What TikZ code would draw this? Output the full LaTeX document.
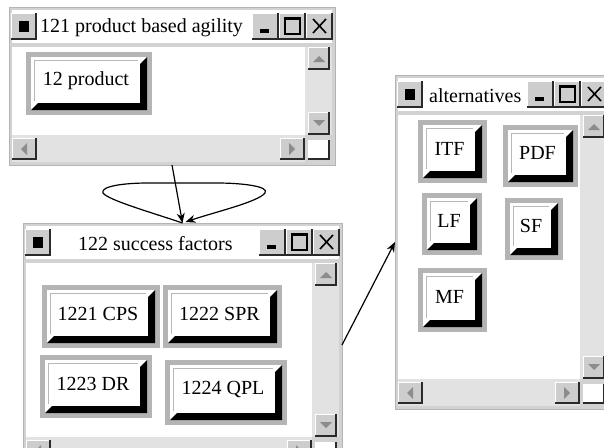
\documentclass[tikz,border=0pt]{standalone}
\usepackage{fontspec}
\setmainfont{Liberation Serif}
\usetikzlibrary{arrows.meta,calc}
\definecolor{framegray}{HTML}{D2D2D2}
\definecolor{trackgray}{HTML}{E2E2E2}
\definecolor{btngray}{HTML}{CDCDCD}
\definecolor{edgedark}{HTML}{2A2A2A}
\definecolor{arrowgray}{HTML}{8C8C8C}
\definecolor{outergray}{HTML}{B4B4B4}
\definecolor{lightline}{HTML}{B8B8B8}
\tikzset{
  titletext/.style={inner sep=0pt,font=\fontsize{20}{24}\selectfont},
  btntext/.style={inner sep=0pt,font=\fontsize{20}{24}\selectfont},
  conn/.style={line width=1.2pt,black,-{Stealth[length=10pt,width=8pt]}},
  winname/.style={inner sep=0pt,outer sep=0pt}
}
\newcommand\raisedbox[4]{%
  \fill[btngray] ({#1},{#2}) rectangle ({#3},{#4});
  \draw[white,line width=1.2pt] ({#1+0.6},{#4}) -- ({#1+0.6},{#2+0.6}) -- ({#3},{#2+0.6});
  \draw[edgedark,line width=1.6pt] ({#1},{#4-0.8}) -- ({#3-0.8},{#4-0.8}) -- ({#3-0.8},{#2});
}
\newcommand\drawwin[7]{%
  \def\wL{#2}\def\wT{#3}\def\wR{#4}\def\wB{#5}%
  \fill[framegray] (\wL,\wT) rectangle (\wR,\wB);
  \draw[outergray,line width=1pt] (\wL,\wT) rectangle (\wR,\wB);
  \fill[white] ({\wL+3},{\wT+3}) rectangle ({\wR-3},{\wT+36});
  \fill[white] ({\wL+3},{\wT+40}) rectangle ({\wR-30},{\wB-30});
  \fill[trackgray] ({\wR-30},{\wT+40}) rectangle ({\wR-3},{\wB-30});
  \fill[trackgray] ({\wL+3},{\wB-30}) rectangle ({\wR-30},{\wB-3});
  % system icon
  \raisedbox{\wL+2}{\wT+6}{\wL+28}{\wT+33}
  \fill[black] ({\wL+10},{\wT+14}) rectangle ({\wL+20},{\wT+25});
  % minimize
  \raisedbox{\wR-83}{\wT+6}{\wR-56}{\wT+33}
  \fill[black] ({\wR-75},{\wT+22}) rectangle ({\wR-66},{\wT+26});
  % maximize
  \raisedbox{\wR-56}{\wT+6}{\wR-29}{\wT+33}
  \draw[black,line width=1.3pt] ({\wR-50},{\wT+11}) rectangle ({\wR-35},{\wT+27});
  \draw[black,line width=2pt] ({\wR-50},{\wT+12}) -- ({\wR-35},{\wT+12});
  % close
  \raisedbox{\wR-29}{\wT+6}{\wR-2}{\wT+33}
  \draw[black,line width=1.6pt] ({\wR-22},{\wT+12}) -- ({\wR-9},{\wT+26}) ({\wR-22},{\wT+26}) -- ({\wR-9},{\wT+12});
  % title
  \node[titletext,anchor=west] at (#7,{\wT+21}) {#6};
  % scroll up
  \raisedbox{\wR-27}{\wT+40}{\wR-5}{\wT+63}
  \fill[arrowgray] ({\wR-22},{\wT+55}) -- ({\wR-10},{\wT+55}) -- ({\wR-16},{\wT+49}) -- cycle;
  % scroll down
  \raisedbox{\wR-27}{\wB-53}{\wR-5}{\wB-30}
  \fill[arrowgray] ({\wR-22},{\wB-45}) -- ({\wR-10},{\wB-45}) -- ({\wR-16},{\wB-39}) -- cycle;
  % scroll left
  \raisedbox{\wL+3}{\wB-27}{\wL+28}{\wB-5}
  \fill[arrowgray] ({\wL+12},{\wB-16}) -- ({\wL+18},{\wB-22}) -- ({\wL+18},{\wB-10}) -- cycle;
  % scroll right
  \raisedbox{\wR-55}{\wB-27}{\wR-30}{\wB-5}
  \fill[arrowgray] ({\wR-40},{\wB-16}) -- ({\wR-46},{\wB-22}) -- ({\wR-46},{\wB-10}) -- cycle;
  % corner
  \fill[white] ({\wR-27},{\wB-25}) rectangle ({\wR-5},{\wB-5});
  \draw[edgedark,line width=1.6pt] ({\wR-27},{\wB-5.8}) -- ({\wR-5.8},{\wB-5.8}) -- ({\wR-5.8},{\wB-25});
  % name
  \node[winname,minimum width={#4-#2},minimum height={#5-#3}] (#1) at ({(#2+#4)/2},{(#3+#5)/2}) {};
}
\newcommand\appbtn[6]{%
  \def\bA{#2}\def\bB{#3}\def\bC{#4}\def\bD{#5}%
  \fill[outergray] (\bA,\bB) rectangle (\bC,\bD);
  \fill[white] ({\bA+5},{\bB+5}) rectangle ({\bC-5},{\bD-5});
  \fill[black] ({\bC-5},{\bB+5}) -- ({\bC-5},{\bD-5}) -- ({\bA+5},{\bD-5}) -- ({\bA+12},{\bD-12}) -- ({\bC-12},{\bD-12}) -- ({\bC-12},{\bB+12}) -- cycle;
  \draw[lightline,line width=1pt] ({\bA+8},{\bD-14}) -- ({\bA+8},{\bB+8}) -- ({\bC-14},{\bB+8});
  \node[btntext] (#1) at ({(\bA+\bC)/2-3},{(\bB+\bD)/2-3}) {#6};
}
\begin{document}
\begin{tikzpicture}[x=1pt,y=-1pt]
\useasboundingbox (0,0) rectangle (604,447);
\clip (0,0) rectangle (604,447);
\fill[white] (0,0) rectangle (604,447);

% window 1
\drawwin{w1}{9}{7}{335}{165}{121 product based agility}{40}
\appbtn{prod}{26}{52}{152}{115}{12 product}

% window 2
\drawwin{w2}{23}{223}{342}{467}{122 success factors}{78}
\appbtn{cps}{42}{285}{160}{348}{1221 CPS}
\appbtn{spr}{163}{285}{282}{348}{1222 SPR}
\appbtn{dr}{40}{355}{152}{418}{1223 DR}
\appbtn{qpl}{165}{360}{287}{425}{1224 QPL}

% window 3
\drawwin{w3}{395}{75}{610}{409}{alternatives}{429}
\appbtn{itf}{418}{120}{487}{183}{ITF}
\appbtn{pdf}{503}{125}{578}{187}{PDF}
\appbtn{lf}{422}{193}{482}{255}{LF}
\appbtn{sf}{505}{198}{563}{260}{SF}
\appbtn{mf}{418}{268}{487}{332}{MF}

% connectors
\draw[conn] (w1.south) -- (w2.north);
\draw[conn] (w2.north) .. controls (150,212) and (108,200) .. (103,193)
  .. controls (100,186) and (125,183) .. (148,183) -- (217,183)
  .. controls (240,183) and (270,186) .. (265,193)
  .. controls (258,202) and (215,212) .. ($(w2.north)+(3,-1)$);
\draw[conn] (w2.east) -- (w3.west);
\end{tikzpicture}
\end{document}
